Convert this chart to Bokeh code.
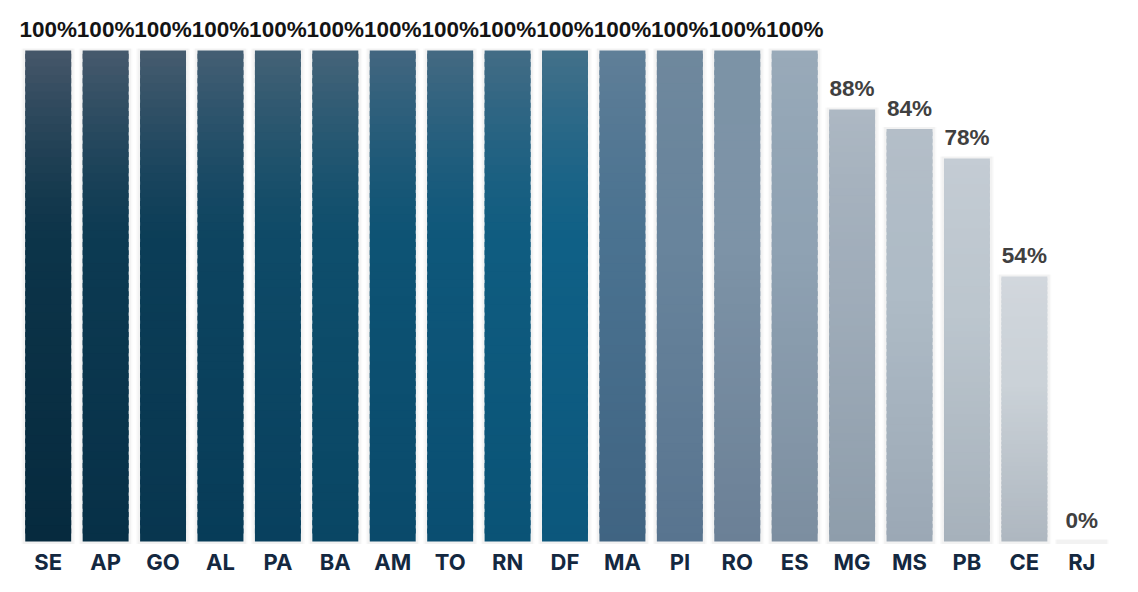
from bokeh.plotting import figure
from bokeh.models import FactorRange, Range1d, ColumnDataSource
from bokeh.embed import file_html
from bokeh.resources import INLINE
from bokeh.core.properties import value

# ---- data ----
states = ["SE", "AP", "GO", "AL", "PA", "BA", "AM", "TO", "RN", "DF",
          "MA", "PI", "RO", "ES", "MG", "MS", "PB", "CE", "RJ"]
pct = [100, 100, 100, 100, 100, 100, 100, 100, 100, 100,
       100, 100, 100, 100, 88, 84, 78, 54, 0]

# ---- palette (gradient stops per bar: top, middle, bottom) ----
top_cols = ["#46576a", "#475a6d", "#475c6f", "#455f74", "#456276", "#466479", "#446780",
            "#456a82", "#446c85", "#447089", "#607f98", "#6f889d", "#7c93a6", "#99aab9",
            "#adb8c3", "#b4bec8", "#c4ccd4", "#d2d7dd", "#d8dde2"]
mid_cols = ["#0c3449", "#0c3a52", "#0b3d57", "#0d4460", "#0e4a67", "#0e4e6c", "#0d5374",
            "#0e577a", "#0f5c80", "#0f6086", "#4a7290", "#68849c", "#7d93a7", "#8fa2b3",
            "#a0adba", "#aebbc6", "#bcc6ce", "#cbd2d8", "#cfd5da"]
bot_cols = ["#062a3e", "#073047", "#08364f", "#073c58", "#08405e", "#094664", "#0a4a6b",
            "#0a4e71", "#0a5376", "#0c577c", "#406482", "#58748f", "#6b8096", "#7c8ea0",
            "#8e9dab", "#9ba8b5", "#a6b1bb", "#aeb7c0", "#b5bdc5"]


def hex2rgb(h):
    h = h.lstrip("#")
    return [int(h[i:i + 2], 16) for i in (0, 2, 4)]


def mix(a, b, f):
    ra, rb = hex2rgb(a), hex2rgb(b)
    return "#%02x%02x%02x" % tuple(int(round(ra[i] + (rb[i] - ra[i]) * f)) for i in range(3))


def grad(i, t):
    # t: 0 at bottom, 1 at top
    if t <= 0.6:
        return mix(bot_cols[i], mid_cols[i], t / 0.6)
    s = ((t - 0.6) / 0.4) ** 1.4
    return mix(mid_cols[i], top_cols[i], s)


N = 60
xs, bots, tops, cols = [], [], [], []
for i, (s, v) in enumerate(zip(states, pct)):
    if v <= 0:
        continue
    for k in range(N):
        xs.append(s)
        bots.append(v * k / N)
        tops.append(min(v, v * (k + 1.6) / N))
        cols.append(grad(i, (k + 0.5) / N))

p = figure(x_range=FactorRange(*states, range_padding=0),
           y_range=Range1d(-1.0, 108.55),
           frame_width=1091, frame_height=538,
           min_border_left=19, min_border_right=20, min_border_top=8, min_border_bottom=10,
           output_backend="svg", toolbar_location=None, background_fill_color="white",
           border_fill_color="white")
p.outline_line_color = None
p.grid.visible = False
p.yaxis.visible = False

# soft shadows
sh = ColumnDataSource(dict(x=states, top=[v + 0.4 for v in pct], bottom=[-0.5] * len(pct)))
p.vbar(x="x", top="top", bottom="bottom", width=0.8 + 8 / 57.4, source=sh,
       fill_color="#000000", fill_alpha=0.02, line_color=None)
p.vbar(x="x", top="top", bottom="bottom", width=0.8 + 5 / 57.4, source=sh,
       fill_color="#000000", fill_alpha=0.03, line_color=None)
p.vbar(x="x", top=[v + 0.15 for v in pct], bottom=[-0.25] * len(pct), width=0.8 + 2.5 / 57.4,
       fill_color="#000000", fill_alpha=0.045, line_color=None)

bars = ColumnDataSource(dict(x=xs, bottom=bots, top=tops, c=cols))
p.vbar(x="x", bottom="bottom", top="top", width=0.8, source=bars,
       fill_color="c", line_color=None)

labels = ColumnDataSource(dict(
    x=states, y=pct, t=[f"{v}%" for v in pct],
    c=["#141414" if v == 100 else "#404040" for v in pct]))
p.text(x="x", y="y", text="t", source=labels, text_color="c",
       text_font=value("Liberation Sans"), text_font_style="bold", text_font_size="22.5px",
       text_align="center", text_baseline="alphabetic", y_offset=-13 - 8)

ax = p.xaxis[0]
ax.axis_line_color = None
ax.major_tick_line_color = None
ax.minor_tick_line_color = None
ax.major_tick_out = 0
ax.major_tick_in = 0
ax.major_label_standoff = 2
ax.major_label_text_font = "Inter"
ax.major_label_text_font_style = "bold"
ax.major_label_text_font_size = "22px"
ax.major_label_text_color = "#142840"

open("out.html", "w").write(file_html(p, INLINE))
